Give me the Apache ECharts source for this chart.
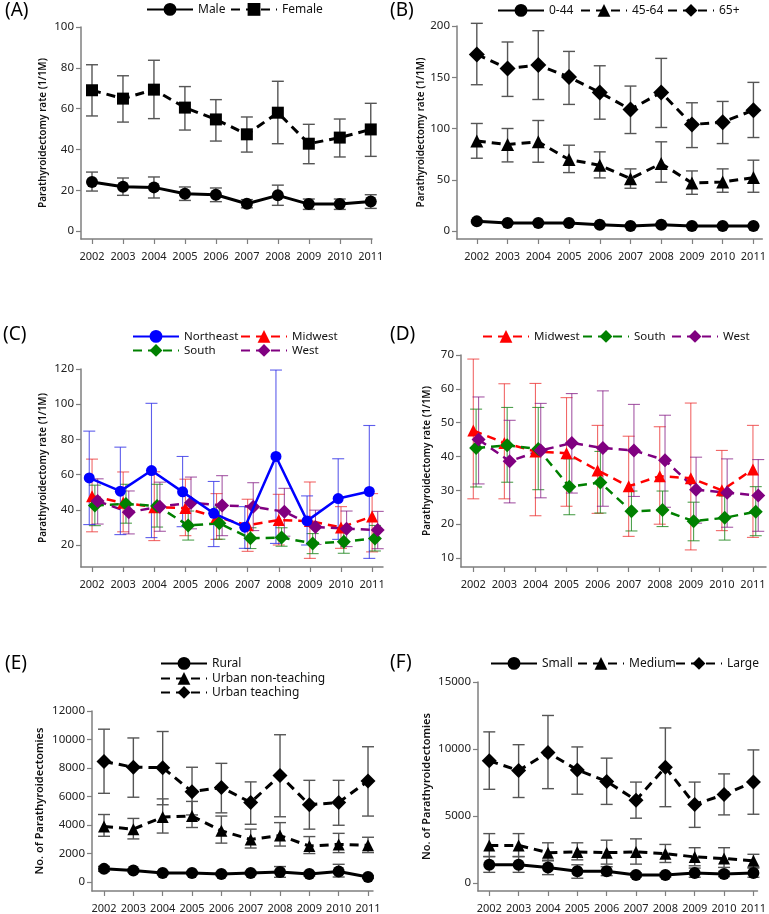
<!DOCTYPE html>
<html>
<head>
<meta charset="utf-8">
<script src="https://cdn.jsdelivr.net/npm/echarts@6/dist/echarts.min.js"></script>
<style>
html,body{margin:0;padding:0;background:#fff;}
#chart{width:769px;height:914px;}
</style>
</head>
<body>
<div id="chart"></div>
<script>
// ---------- DATA ----------
const years = [2002, 2003, 2004, 2005, 2006, 2007, 2008, 2009, 2010, 2011];

// (A) Sex — rate per 1M
const maleRate   = [24.0, 21.7, 21.4, 18.3, 17.8, 13.4, 17.5, 13.2, 13.2, 14.5];
const maleLow    = [19.6, 17.5, 16.2, 15.0, 14.4, 11.4, 12.6, 10.6, 10.6, 11.1];
const maleHigh   = [28.9, 26.0, 26.5, 21.6, 21.1, 15.4, 22.5, 15.7, 15.7, 17.8];
const femaleRate = [69.0, 64.9, 69.3, 60.5, 54.7, 47.4, 58.0, 42.8, 45.8, 49.8];
const femaleLow  = [56.4, 53.4, 55.1, 49.5, 44.1, 38.7, 42.8, 33.0, 36.3, 36.6];
const femaleHigh = [81.5, 76.1, 83.7, 70.8, 64.4, 55.9, 73.4, 52.3, 54.9, 62.6];

// (B) Age — rate per 1M
const age044Rate  = [9.4, 7.8, 7.8, 7.8, 6.2, 4.9, 6.2, 4.9, 4.9, 4.9];
const age044Low   = [8.2, 6.8, 6.8, 6.8, 5.3, 4.1, 5.3, 4.1, 4.1, 4.1];
const age044High  = [10.6, 8.8, 8.8, 8.8, 7.1, 5.7, 7.1, 5.7, 5.7, 5.7];
const age4564Rate = [87.9, 84.4, 87.0, 69.7, 64.2, 51.1, 65.8, 46.9, 47.9, 52.1];
const age4564Low  = [71.0, 67.4, 67.1, 57.0, 51.8, 41.7, 47.6, 35.8, 37.8, 37.8];
const age4564High = [104.9, 100.0, 107.8, 83.7, 77.2, 60.6, 87.0, 58.6, 60.6, 69.1];
const age65Rate   = [172.3, 158.6, 161.9, 150.2, 135.2, 118.6, 135.2, 103.9, 106.2, 117.9];
const age65Low    = [142.7, 131.3, 128.3, 123.5, 109.1, 95.1, 101.0, 81.4, 85.3, 91.2];
const age65High   = [202.6, 184.4, 195.4, 175.2, 161.2, 141.4, 168.4, 125.1, 126.4, 145.0];

// (C)/(D) Region — rate per 1M
const neRate    = [58.1, 50.6, 62.3, 50.2, 38.0, 30.1, 70.3, 33.7, 46.4, 50.4];
const neLow     = [31.6, 25.9, 24.2, 30.4, 19.1, 18.1, 20.9, 20.0, 23.2, 12.4];
const neHigh    = [84.7, 75.6, 100.5, 70.3, 56.1, 41.8, 119.4, 47.9, 69.0, 87.9];
const mwRate    = [47.7, 44.0, 41.5, 41.0, 35.9, 31.2, 34.2, 33.6, 30.0, 36.2];
const mwLow     = [27.5, 27.5, 22.5, 25.3, 23.2, 16.4, 20.0, 12.4, 18.1, 16.1];
const mwHigh    = [68.8, 61.5, 61.6, 57.4, 49.2, 46.0, 48.8, 55.8, 41.8, 49.2];
const southRate = [42.5, 43.3, 42.2, 31.1, 32.3, 23.8, 24.2, 20.9, 21.9, 23.7];
const southLow  = [31.0, 32.4, 30.2, 22.8, 23.3, 18.0, 19.3, 15.1, 15.3, 16.6];
const southHigh = [54.0, 54.5, 54.5, 39.3, 41.5, 29.8, 29.8, 26.5, 28.3, 31.1];
const westRate  = [45.0, 38.6, 41.8, 44.0, 42.5, 41.8, 38.9, 30.2, 29.3, 28.5];
const westLow   = [31.9, 26.3, 27.8, 29.2, 25.3, 28.2, 25.0, 20.3, 19.1, 17.9];
const westHigh  = [57.6, 50.7, 55.7, 58.6, 59.4, 55.4, 52.2, 39.8, 39.3, 39.1];

// (E) Hospital location/teaching — number of procedures
const ruralN     = [914, 802, 617, 617, 549, 617, 686, 549, 732, 343];
const ruralLow   = [740, 690, 510, 510, 440, 500, 322, 420, 343, 250];
const ruralHigh  = [1090, 910, 725, 725, 660, 735, 1077, 680, 1234, 440];
const urbanNTN    = [3888, 3703, 4553, 4622, 3593, 2976, 3250, 2516, 2633, 2565];
const urbanNTLow  = [3202, 3017, 3429, 3819, 2722, 2379, 2516, 1989, 2057, 2057];
const urbanNTHigh = [4731, 4457, 5829, 5650, 4622, 3703, 4162, 3182, 3408, 3134];
const urbanTN     = [8460, 8050, 8023, 6336, 6631, 5580, 7475, 5417, 5580, 7090];
const urbanTLow   = [6219, 5945, 5417, 4700, 4848, 4046, 4573, 3703, 3977, 4622];
const urbanTHigh  = [10723, 10107, 10560, 8050, 8324, 7021, 10333, 7131, 7131, 9490];

// (F) Hospital size — number of procedures
const smallN     = [1348, 1348, 1152, 858, 858, 588, 588, 735, 662, 735];
const smallLow   = [784, 784, 613, 343, 539, 440, 440, 417, 460, 417];
const smallHigh  = [1961, 1961, 1691, 1348, 1201, 740, 740, 1103, 860, 1103];
const mediumN    = [2794, 2794, 2255, 2304, 2255, 2304, 2181, 1936, 1814, 1642];
const mediumLow  = [1961, 1961, 1642, 1716, 1397, 1397, 1520, 1275, 1152, 1152];
const mediumHigh = [3677, 3677, 2990, 2990, 3186, 3284, 2868, 2623, 2623, 2132];
const largeN     = [9118, 8382, 9730, 8431, 7574, 6177, 8628, 5858, 6593, 7525];
const largeLow   = [6985, 6373, 7034, 6618, 5858, 4828, 5686, 4142, 5074, 5123];
const largeHigh  = [11275, 10319, 12500, 10150, 9314, 7525, 11569, 7525, 8137, 9927];

const yearTicks = years.slice();
const ticksA = [0, 20, 40, 60, 80, 100];
const ticksB = [0, 50, 100, 150, 200];
const ticksC = [20, 40, 60, 80, 100, 120];
const ticksD = [10, 20, 30, 40, 50, 60, 70];
const ticksE = [0, 2000, 4000, 6000, 8000, 10000, 12000];
const ticksF = [0, 5000, 10000, 15000];

// ---------- STYLE / BUILDERS ----------
const FONT = 'Noto Sans';
const AXIS_COLOR = '#7f7f7f';
const grids = [], xAxes = [], yAxes = [], series = [], legends = [];
const plain = v => String(Math.round(v));

function addPanel(g) {
  const i = grids.length;
  grids.push({left: g.left, top: g.top, width: g.width, height: g.height, containLabel: false});
  xAxes.push({
    type: 'value', gridIndex: i, min: g.xmin, max: g.xmax,
    axisLine: {show: true, onZero: false, lineStyle: {color: AXIS_COLOR, width: 1.5}},
    axisTick: {show: true, length: 5, customValues: yearTicks, lineStyle: {color: AXIS_COLOR, width: 1.2}},
    axisLabel: {customValues: yearTicks, formatter: plain, interval: 0, hideOverlap: false,
      color: '#222', fontFamily: FONT, fontSize: 11, margin: 12},
    splitLine: {show: false}
  });
  yAxes.push({
    type: 'value', gridIndex: i, min: g.ymin, max: g.ymax,
    name: g.yname, nameLocation: 'middle', nameGap: g.nameGap, nameRotate: 90,
    nameTextStyle: {fontFamily: FONT, fontSize: g.nameSize || 10, fontWeight: 600, color: '#111'},
    axisLine: {show: true, onZero: false, lineStyle: {color: AXIS_COLOR, width: 1.5}},
    axisTick: {show: true, length: 5, customValues: g.ticks, lineStyle: {color: AXIS_COLOR, width: 1.2}},
    axisLabel: {customValues: g.ticks, formatter: plain, interval: 0, hideOverlap: false,
      color: '#222', fontFamily: FONT, fontSize: 11.5, margin: 7},
    splitLine: {show: false}
  });
  return i;
}

function errRender(color, width, cap) {
  return function (params, api) {
    const x = api.value(0);
    const lo = api.coord([x, api.value(1)]);
    const hi = api.coord([x, api.value(2)]);
    const st = {stroke: color, lineWidth: width};
    return {
      type: 'group',
      children: [
        {type: 'line', shape: {x1: lo[0], y1: lo[1], x2: hi[0], y2: hi[1]}, style: st},
        {type: 'line', shape: {x1: lo[0] - cap, y1: lo[1], x2: lo[0] + cap, y2: lo[1]}, style: st},
        {type: 'line', shape: {x1: hi[0] - cap, y1: hi[1], x2: hi[0] + cap, y2: hi[1]}, style: st}
      ]
    };
  };
}

function addSeries(idx, s) {
  const off = s.offset || 0;
  series.push({
    type: 'custom', name: 'err_' + s.name + '_' + idx,
    xAxisIndex: idx, yAxisIndex: idx,
    renderItem: errRender(s.errColor, s.errWidth || 1.4, s.cap || 6),
    data: years.map((y, k) => [y + off, s.low[k], s.high[k]]),
    encode: {x: 0, y: [1, 2]},
    clip: false, silent: true, z: 1
  });
  series.push({
    type: 'line', name: s.name, xAxisIndex: idx, yAxisIndex: idx,
    data: years.map((y, k) => [y + off, s.vals[k]]),
    symbol: s.symbol, symbolSize: s.size,
    itemStyle: {color: s.color, borderWidth: 0},
    lineStyle: {color: s.color, width: s.lw || 3, type: s.dash || 'solid'},
    z: s.z || 3, clip: false
  });
}

function addLegend(name, left, top, fs) {
  legends.push({
    data: [name], left: left, top: top, itemWidth: 46, itemHeight: 16, itemGap: 0,
    padding: 0, selectedMode: false,
    textStyle: {fontFamily: FONT, fontSize: fs || 12, color: '#111'}
  });
}

const DASH = [9, 6];

// (A)
const a = addPanel({left: 81, top: 27, width: 291, height: 212, xmin: 2001.645, xmax: 2011.04,
  ymin: -3.9, ymax: 100, ticks: ticksA, yname: 'Parathyroidectomy rate (1/1M)', nameGap: 33});
addSeries(a, {name: 'Male', vals: maleRate, low: maleLow, high: maleHigh, color: '#000', errColor: '#555', symbol: 'circle', size: 12});
addSeries(a, {name: 'Female', vals: femaleRate, low: femaleLow, high: femaleHigh, color: '#000', errColor: '#555', symbol: 'rect', size: 12, dash: DASH});
addLegend('Male', 146, 3); addLegend('Female', 230, 3);

// (B)
const b = addPanel({left: 457, top: 26, width: 308, height: 213, xmin: 2001.355, xmax: 2011.29,
  ymin: -7.8, ymax: 200, ticks: ticksB, yname: 'Parathyroidectomy rate (1/1M)', nameGap: 30});
addSeries(b, {name: '0-44', vals: age044Rate, low: age044Low, high: age044High, color: '#000', errColor: '#555', symbol: 'circle', size: 12});
addSeries(b, {name: '45-64', vals: age4564Rate, low: age4564Low, high: age4564High, color: '#000', errColor: '#555', symbol: 'triangle', size: 13, dash: DASH});
addSeries(b, {name: '65+', vals: age65Rate, low: age65Low, high: age65High, color: '#000', errColor: '#555', symbol: 'diamond', size: 16, dash: DASH});
addLegend('0-44', 497, 4); addLegend('45-64', 580, 4); addLegend('65+', 667, 4);

// Region colours
const NE_C = '#0000ff', MW_C = '#ff0000', S_C = '#008000', W_C = '#800080';
const NE_E = 'rgba(40,40,230,0.75)', MW_E = 'rgba(235,40,40,0.7)', S_E = 'rgba(20,130,20,0.75)', W_E = 'rgba(128,20,128,0.7)';

// (C)
const c = addPanel({left: 81, top: 369, width: 302, height: 198, xmin: 2001.645, xmax: 2011.35,
  ymin: 7.5, ymax: 120, ticks: ticksC, yname: 'Parathyroidectomy rate (1/1M)', nameGap: 33});
addSeries(c, {name: 'Midwest', vals: mwRate, low: mwLow, high: mwHigh, color: MW_C, errColor: MW_E, errWidth: 1.1, symbol: 'triangle', size: 12, dash: DASH, lw: 2.5, offset: 0});
addSeries(c, {name: 'South', vals: southRate, low: southLow, high: southHigh, color: S_C, errColor: S_E, errWidth: 1.1, symbol: 'diamond', size: 14, dash: DASH, lw: 2.5, offset: 0.09});
addSeries(c, {name: 'West', vals: westRate, low: westLow, high: westHigh, color: W_C, errColor: W_E, errWidth: 1.1, symbol: 'diamond', size: 14, dash: DASH, lw: 2.5, offset: 0.18});
addSeries(c, {name: 'Northeast', vals: neRate, low: neLow, high: neHigh, color: NE_C, errColor: NE_E, errWidth: 1.1, symbol: 'circle', size: 11, lw: 2.5, offset: -0.09, z: 4});
addLegend('Northeast', 132, 330, 11.5); addLegend('Midwest', 240, 330, 11.5);
addLegend('South', 132, 344, 11.5); addLegend('West', 240, 344, 11.5);

// (D)
const d = addPanel({left: 461, top: 355, width: 305, height: 212, xmin: 2001.604, xmax: 2011.42,
  ymin: 7.35, ymax: 70, ticks: ticksD, yname: 'Parathyroidectomy rate (1/1M)', nameGap: 29});
addSeries(d, {name: 'Midwest', vals: mwRate, low: mwLow, high: mwHigh, color: MW_C, errColor: MW_E, errWidth: 1.1, symbol: 'triangle', size: 12, dash: DASH, lw: 2.5, offset: 0});
addSeries(d, {name: 'South', vals: southRate, low: southLow, high: southHigh, color: S_C, errColor: S_E, errWidth: 1.1, symbol: 'diamond', size: 14, dash: DASH, lw: 2.5, offset: 0.09});
addSeries(d, {name: 'West', vals: westRate, low: westLow, high: westHigh, color: W_C, errColor: W_E, errWidth: 1.1, symbol: 'diamond', size: 14, dash: DASH, lw: 2.5, offset: 0.17});
addLegend('Midwest', 482, 330, 11.5); addLegend('South', 582, 330, 11.5); addLegend('West', 671, 330, 11.5);

// (E)
const e = addPanel({left: 92, top: 711, width: 281, height: 184, xmin: 2001.59, xmax: 2011.17,
  ymin: -640, ymax: 12000, ticks: ticksE, yname: 'No. of Parathyroidectomies', nameGap: 47, nameSize: 11});
addSeries(e, {name: 'Rural', vals: ruralN, low: ruralLow, high: ruralHigh, color: '#000', errColor: '#555', symbol: 'circle', size: 12});
addSeries(e, {name: 'Urban non-teaching', vals: urbanNTN, low: urbanNTLow, high: urbanNTHigh, color: '#000', errColor: '#555', symbol: 'triangle', size: 12, dash: DASH});
addSeries(e, {name: 'Urban teaching', vals: urbanTN, low: urbanTLow, high: urbanTHigh, color: '#000', errColor: '#555', symbol: 'diamond', size: 15, dash: DASH});
addLegend('Rural', 160, 657); addLegend('Urban non-teaching', 160, 672); addLegend('Urban teaching', 160, 686);

// (F)
const f = addPanel({left: 478, top: 682, width: 280, height: 212, xmin: 2001.616, xmax: 2011.14,
  ymin: -610, ymax: 15000, ticks: ticksF, yname: 'No. of Parathyroidectomies', nameGap: 46, nameSize: 11});
addSeries(f, {name: 'Small', vals: smallN, low: smallLow, high: smallHigh, color: '#000', errColor: '#555', symbol: 'circle', size: 12});
addSeries(f, {name: 'Medium', vals: mediumN, low: mediumLow, high: mediumHigh, color: '#000', errColor: '#555', symbol: 'triangle', size: 12, dash: DASH});
addSeries(f, {name: 'Large', vals: largeN, low: largeLow, high: largeHigh, color: '#000', errColor: '#555', symbol: 'diamond', size: 15, dash: DASH});
addLegend('Small', 490, 657); addLegend('Medium', 577, 657); addLegend('Large', 675, 657);

const panelLabels = [
  {text: '(A)', x: 5, y: 1}, {text: '(B)', x: 390, y: 1},
  {text: '(C)', x: 3, y: 325}, {text: '(D)', x: 390, y: 325},
  {text: '(E)', x: 5, y: 654}, {text: '(F)', x: 390, y: 653}
];

const chart = echarts.init(document.getElementById('chart'), null, {renderer: 'canvas'});
chart.setOption({
  animation: false,
  backgroundColor: '#fff',
  textStyle: {fontFamily: FONT},
  grid: grids, xAxis: xAxes, yAxis: yAxes, legend: legends, series: series,
  graphic: panelLabels.map(p => ({
    type: 'text', left: p.x, top: p.y,
    style: {text: p.text, fontFamily: FONT, fontSize: 19, fill: '#000'}
  }))
});
</script>
</body>
</html>
